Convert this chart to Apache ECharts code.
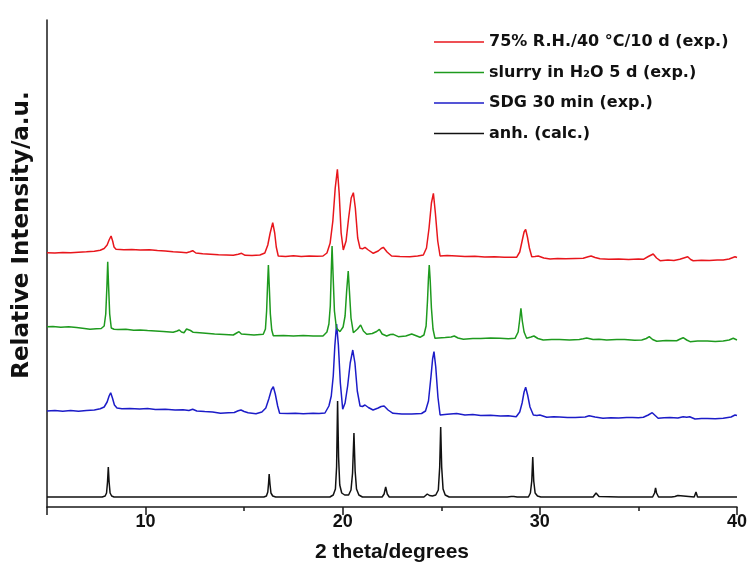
<!DOCTYPE html>
<html>
<head>
<meta charset="utf-8">
<script src="https://cdn.jsdelivr.net/npm/echarts@6/dist/echarts.min.js"></script>
<style>
  html, body { margin: 0; padding: 0; background: #ffffff; }
  #chart { width: 750px; height: 570px; }
</style>
</head>
<body>
<div id="chart"></div>
<script>
// PXRD patterns, [2θ (degrees), relative intensity (a.u.)] measured from each pattern's own baseline
const anhCalc = [[5.0,0],[7.8,0],[7.95,1],[8.02,4],[8.07,15],[8.11,30],[8.15,15],[8.2,4],[8.28,1],[8.4,0],[12.1,0],[12.17,2],[12.25,0],[16.0,0],[16.13,1],[16.2,5],[16.24,14],[16.27,23],[16.31,13],[16.36,4],[16.45,1],[16.6,0],[19.35,0],[19.52,2],[19.63,8],[19.69,30],[19.74,96],[19.79,40],[19.85,12],[19.95,4],[20.1,2],[20.3,2],[20.42,7],[20.5,24],[20.57,64],[20.63,26],[20.7,8],[20.82,2],[21.0,0],[22.0,0],[22.1,3],[22.18,10],[22.26,3],[22.36,0],[22.63,0],[22.7,2],[22.77,0],[24.12,0],[24.29,3],[24.4,1.5],[24.55,1],[24.72,2],[24.85,7],[24.92,30],[24.97,70],[25.02,30],[25.09,8],[25.2,2],[25.4,0],[26.93,0],[27.0,1.5],[27.07,0],[28.35,0],[28.43,2],[28.55,0.5],[28.68,0.5],[28.74,2],[28.85,0],[29.42,0],[29.52,4],[29.59,16],[29.64,40],[29.69,16],[29.76,4],[29.88,1],[30.05,0],[32.7,0],[32.8,2],[32.85,4],[32.91,2],[33.0,0.5],[33.1,0],[34.0,0],[34.07,1.5],[34.14,0],[34.45,0],[34.52,1.5],[34.59,0],[35.72,0],[35.82,4],[35.87,9],[35.92,4],[36.02,0],[36.68,0],[36.75,1.5],[36.85,0.5],[37.0,1.5],[37.08,0],[37.83,0],[37.92,5],[38.0,0],[38.82,0],[38.88,1.5],[38.95,0],[39.58,0],[39.65,1.5],[39.72,0],[40.0,0]];

const sdg30 = [[5.0,0],[5.4,0.6],[5.8,-0.3],[6.2,0.4],[6.6,-0.2],[7.0,0.5],[7.4,1],[7.7,2.2],[7.9,4],[8.05,9],[8.15,15],[8.23,18.3],[8.32,13],[8.42,6],[8.55,3],[8.8,2.2],[9.2,2.4],[9.7,2],[10.1,2.4],[10.5,1.5],[11.0,1.8],[11.5,1],[11.9,1.2],[12.2,0.5],[12.39,1.7],[12.6,0],[13.0,-0.6],[13.4,-1],[13.8,-2.3],[14.2,-1.8],[14.5,-1.5],[14.7,0.2],[14.84,1],[15.0,-0.5],[15.2,-1.8],[15.6,-2.7],[15.9,-1],[16.1,3],[16.25,12],[16.38,21],[16.48,24.3],[16.58,17],[16.7,5],[16.8,-2.3],[17.2,-2.6],[17.6,-2.2],[18.0,-2.7],[18.5,-2.3],[18.8,-2.5],[19.1,-2],[19.3,5],[19.42,15],[19.52,35],[19.6,65],[19.69,87],[19.78,66],[19.88,28],[20.0,1.7],[20.12,8],[20.25,25],[20.38,48],[20.51,61],[20.62,48],[20.74,20],[20.88,5],[21.0,4.5],[21.13,6],[21.3,3.5],[21.54,1],[21.8,3],[21.95,4.5],[22.1,5],[22.3,1],[22.55,-2.3],[23.0,-3],[23.5,-3],[24.0,-2.5],[24.2,0],[24.35,10],[24.48,35],[24.56,52],[24.63,59.3],[24.72,44],[24.83,14],[24.94,-4],[25.3,-3.2],[25.78,-2.5],[26.2,-4],[26.6,-3.6],[27.0,-4.5],[27.5,-4.2],[28.0,-5],[28.4,-4.8],[28.8,-5.7],[28.98,-1],[29.1,8],[29.2,19],[29.28,23.7],[29.38,16],[29.5,4],[29.67,-4],[29.85,-4.5],[30.0,-4],[30.35,-6.3],[30.7,-5.8],[31.0,-6],[31.4,-6.5],[31.8,-6.5],[32.3,-6],[32.5,-4.8],[32.6,-4],[32.8,-6],[33.2,-7.3],[33.6,-6.8],[34.0,-7],[34.4,-6.6],[34.7,-6.5],[35.0,-6.8],[35.25,-6.3],[35.5,-4],[35.7,-1.7],[35.85,-4.5],[36.0,-7.3],[36.3,-6.8],[36.6,-6.5],[37.0,-6.9],[37.27,-5.7],[37.45,-6.2],[37.6,-5.7],[37.87,-8],[38.2,-7.6],[38.5,-7.5],[38.9,-7.8],[39.3,-7.3],[39.7,-6],[39.9,-4],[40.0,-4.5]];

const slurryH2O = [[5.0,-0.7],[5.3,-0.5],[5.7,-1.3],[6.1,-0.8],[6.5,-1.6],[6.9,-2.4],[7.18,-3.3],[7.5,-2.8],[7.75,-2.5],[7.9,0],[7.98,12],[8.04,40],[8.08,64.3],[8.12,42],[8.18,12],[8.26,-2],[8.4,-3.3],[8.6,-3.5],[9.0,-3.2],[9.4,-4.2],[9.72,-4],[10.1,-4.6],[10.5,-5],[10.9,-5.4],[11.4,-6.3],[11.6,-5],[11.71,-4],[11.82,-6],[11.95,-6.7],[12.08,-3],[12.17,-1.3],[12.28,-4.5],[12.42,-6.3],[12.9,-7],[13.5,-8],[14.0,-8.5],[14.45,-9],[14.62,-7],[14.74,-5.7],[14.86,-8],[14.96,-9.3],[15.5,-9],[15.97,-8.3],[16.08,-3],[16.14,15],[16.19,42],[16.23,61],[16.27,42],[16.33,12],[16.4,-4],[16.48,-9.7],[17.0,-9.6],[17.5,-10],[18.0,-9.6],[18.5,-10],[19.0,-10],[19.2,-6],[19.3,2],[19.37,20],[19.42,55],[19.46,80],[19.51,52],[19.58,15],[19.68,-2],[19.86,-5.7],[20.02,-1],[20.12,10],[20.2,35],[20.28,55],[20.34,35],[20.42,8],[20.54,-6.7],[20.75,-3],[20.91,1],[21.05,-5],[21.22,-8.3],[21.5,-7.5],[21.72,-5.5],[21.86,-3.3],[22.0,-8],[22.23,-10],[22.42,-8.5],[22.57,-8.3],[22.82,-10.7],[23.2,-10],[23.5,-8],[23.92,-11.3],[24.12,-9],[24.23,0],[24.3,25],[24.35,48],[24.39,61],[24.44,45],[24.5,18],[24.58,-3],[24.68,-12.3],[25.2,-11.5],[25.5,-11],[25.66,-10],[25.85,-12],[26.12,-13.3],[26.6,-12.5],[27.0,-12.5],[27.5,-12],[27.98,-12.3],[28.4,-12.8],[28.74,-12.3],[28.9,-6],[28.97,5],[29.04,17.7],[29.11,5],[29.2,-6],[29.33,-12.3],[29.55,-11],[29.7,-10],[29.9,-12.5],[30.17,-14],[30.6,-13.5],[31.0,-13.5],[31.5,-14],[32.0,-13.5],[32.2,-12.8],[32.38,-12],[32.46,-11.7],[32.7,-13.5],[33.0,-13.3],[33.39,-14],[33.9,-13.6],[34.3,-13.5],[34.8,-14.2],[35.17,-14],[35.4,-12.5],[35.55,-10.7],[35.72,-13.5],[35.93,-15.3],[36.4,-14.6],[36.94,-14.7],[37.12,-13],[37.27,-11.7],[37.45,-14],[37.62,-15.7],[38.0,-15],[38.5,-15],[38.9,-15.4],[39.3,-15],[39.6,-14],[39.81,-12.3],[40.0,-14]];

const rh75 = [[5.0,0.3],[5.4,0],[5.8,0.6],[6.2,0.2],[6.6,0.8],[7.0,1.2],[7.4,1.8],[7.7,2.8],[7.9,4.5],[8.05,8],[8.15,13],[8.25,17],[8.33,12],[8.4,6],[8.5,3.7],[8.9,3.3],[9.3,3.6],[9.72,3],[10.2,3.2],[10.6,2.4],[11.0,2.0],[11.4,1.2],[11.8,0.8],[12.08,0.3],[12.25,1.2],[12.39,2.3],[12.55,0],[12.9,-0.8],[13.3,-1.2],[13.7,-1.8],[14.1,-2.0],[14.45,-2.3],[14.7,-1.2],[14.87,-0.3],[15.05,-2.3],[15.4,-2.6],[15.8,-2.0],[16.05,0],[16.2,8],[16.32,20],[16.45,30.3],[16.55,20],[16.63,6],[16.73,-3],[17.1,-3.4],[17.5,-2.8],[17.9,-3.4],[18.3,-3],[18.7,-3.3],[19.0,-3],[19.2,0],[19.36,9.7],[19.5,32],[19.62,65],[19.73,83.7],[19.82,60],[19.92,20],[20.03,3],[20.17,12],[20.3,35],[20.43,55],[20.54,60.3],[20.64,45],[20.76,15],[20.88,4.7],[21.0,4.2],[21.13,5.7],[21.3,3],[21.55,-0.3],[21.8,2],[21.95,4.5],[22.06,5.7],[22.25,1],[22.48,-3],[22.9,-3.4],[23.41,-3.7],[23.8,-3],[24.09,-2],[24.25,5],[24.38,25],[24.5,50],[24.6,59.7],[24.7,40],[24.82,12],[24.94,-3],[25.3,-2.6],[25.78,-3],[26.2,-3.5],[26.7,-3.2],[27.2,-4],[27.7,-3.8],[28.2,-4.2],[28.82,-4.3],[28.98,1],[29.1,12],[29.2,21],[29.28,23.7],[29.37,16],[29.47,5],[29.59,-3.7],[29.75,-3.4],[29.92,-3],[30.2,-5],[30.52,-6],[30.9,-5.4],[31.3,-5.8],[31.8,-5.5],[32.2,-5.3],[32.45,-3.8],[32.6,-3],[32.8,-4.5],[33.05,-5.7],[33.5,-6.2],[34.0,-6],[34.5,-6.6],[35.0,-6],[35.25,-6.3],[35.5,-3.5],[35.75,-1],[35.92,-5],[36.1,-7.7],[36.5,-7],[36.8,-7.4],[37.1,-6.3],[37.3,-5],[37.5,-3.7],[37.65,-6.5],[37.78,-7.7],[38.2,-7.2],[38.6,-7.6],[39.0,-7],[39.3,-7],[39.6,-6],[39.9,-3.7],[40.0,-4.5]];

// vertical stacking offsets (a.u.) for each pattern
const offsetAnh = 10;
const offsetSdg = 96;
const offsetSlurry = 181;
const offsetRh = 254;

// legend names, top to bottom
const seriesNames = [
  '75% R.H./40 °C/10 d (exp.)',
  'slurry in H₂O 5 d (exp.)',
  'SDG 30 min (exp.)',
  'anh. (calc.)'
];

const xTickValues = [10, 20, 30, 40];

const shift = (pts, off) => pts.map(p => [p[0], p[1] + off]);

const chart = echarts.init(document.getElementById('chart'), null, { renderer: 'canvas' });

const axisColor = '#1a1a1a';
const lineW = 1.5;

chart.setOption({
  animation: false,
  backgroundColor: '#ffffff',
  grid: { left: 47, right: 13, top: 20, bottom: 63, containLabel: false },
  xAxis: [
    {
      type: 'value',
      min: 5,
      max: 40,
      interval: 5,
      position: 'bottom',
      axisLine: { show: true, onZero: false, lineStyle: { color: axisColor, width: 1.5 } },
      axisTick: { show: true, inside: false, length: 4, lineStyle: { color: axisColor, width: 1.5 } },
      splitLine: { show: false },
      axisLabel: {
        formatter: v => (xTickValues.indexOf(v) >= 0 ? String(v) : ''),
        margin: 6,
        color: '#111',
        fontFamily: 'Liberation Sans',
        fontWeight: 'bold',
        fontSize: 18
      },
      name: '2 theta/degrees',
      nameLocation: 'middle',
      nameGap: 35,
      nameTextStyle: {
        color: '#111',
        fontFamily: 'Liberation Sans',
        fontWeight: 'bold',
        fontSize: 21
      }
    },
    {
      // long ticks at every 10°, counted from the right-hand end
      type: 'value',
      min: 0,
      max: 35,
      interval: 10,
      inverse: true,
      position: 'bottom',
      axisLine: { show: false },
      axisTick: { show: true, inside: false, length: 8, lineStyle: { color: axisColor, width: 1.5 } },
      axisLabel: { show: false },
      splitLine: { show: false }
    }
  ],
  yAxis: {
    type: 'value',
    min: 0,
    max: 487,
    axisLine: { show: true, onZero: false, lineStyle: { color: axisColor, width: 1.5 } },
    axisTick: { show: false },
    axisLabel: { show: false },
    splitLine: { show: false }
  },
  legend: {
    data: seriesNames,
    orient: 'vertical',
    left: 429,
    top: 27,
    icon: 'rect',
    itemWidth: 50,
    itemHeight: 1.5,
    itemGap: 10.5,
    textStyle: {
      color: '#111',
      fontFamily: 'DejaVu Sans',
      fontWeight: 'bold',
      fontSize: 16,
      lineHeight: 20
    }
  },
  graphic: [
    {
      type: 'text',
      x: 22,
      y: 235,
      rotation: Math.PI / 2,
      style: {
        text: 'Relative Intensity/a.u.',
        font: 'bold 23px "DejaVu Sans"',
        fill: '#111',
        align: 'center',
        verticalAlign: 'middle'
      }
    }
  ],
  series: [
    {
      name: seriesNames[3],
      type: 'line',
      symbol: 'none',
      color: '#111111',
      lineStyle: { width: lineW },
      data: shift(anhCalc, offsetAnh)
    },
    {
      name: seriesNames[2],
      type: 'line',
      symbol: 'none',
      color: '#1c1cc8',
      lineStyle: { width: lineW },
      data: shift(sdg30, offsetSdg)
    },
    {
      name: seriesNames[1],
      type: 'line',
      symbol: 'none',
      color: '#1e9a1e',
      lineStyle: { width: lineW },
      data: shift(slurryH2O, offsetSlurry)
    },
    {
      name: seriesNames[0],
      type: 'line',
      symbol: 'none',
      color: '#e8161c',
      lineStyle: { width: lineW },
      data: shift(rh75, offsetRh)
    }
  ]
});
</script>
</body>
</html>
